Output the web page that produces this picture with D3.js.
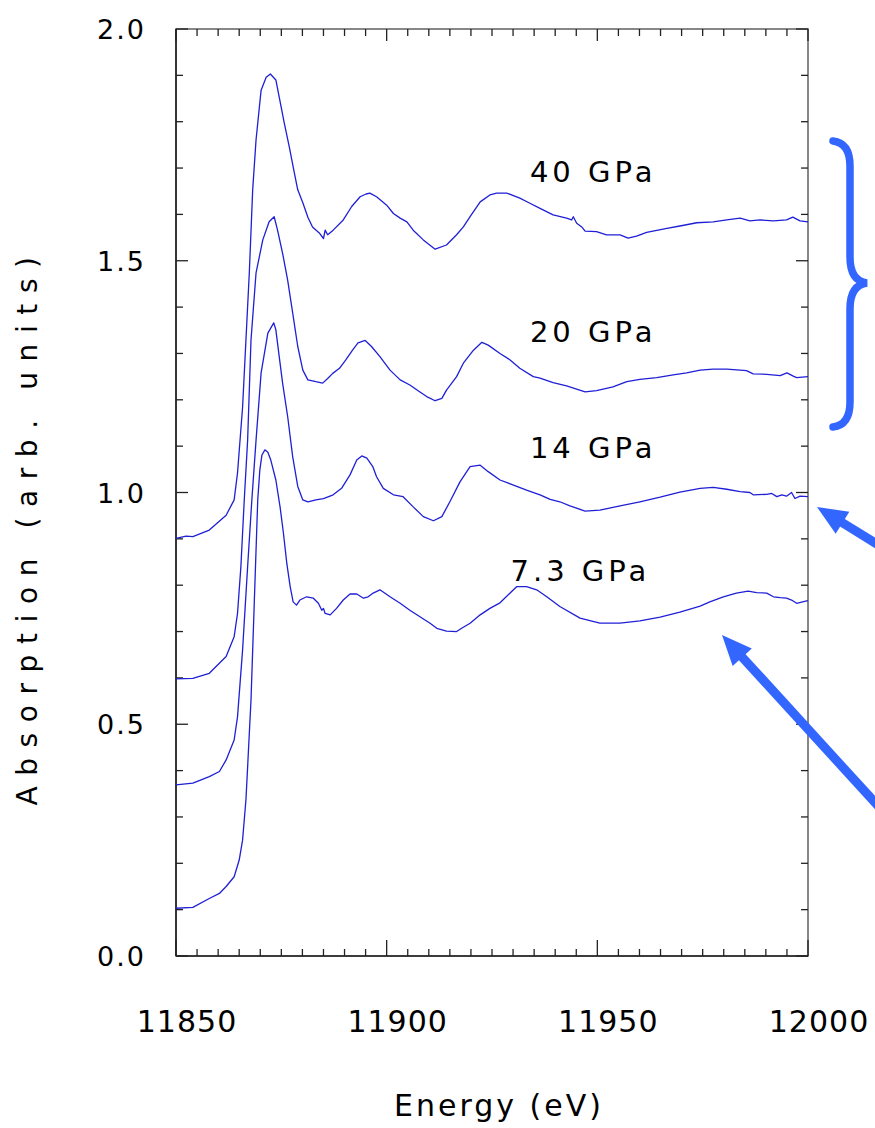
<!DOCTYPE html>
<html><head><meta charset="utf-8">
<script src="https://cdn.jsdelivr.net/npm/d3@7"></script>
<style>
html,body{margin:0;padding:0;background:#fff;}
svg text{font-family:"DejaVu Sans",sans-serif;fill:#000;}
</style></head>
<body>
<svg id="chart" width="875" height="1128"></svg>
<script>
// ---- data (energy in eV, absorption in arb. units) ----
const seriesNames = ["40 GPa", "20 GPa", "14 GPa", "7.3 GPa"];
const energy40 = [11850.0,11852.4,11854.0,11857.9,11861.9,11863.8,11864.6,11865.8,11866.6,11867.4,11868.2,11869.0,11870.2,11871.4,11872.4,11873.7,11874.5,11875.7,11876.9,11878.1,11878.9,11880.1,11881.3,11882.4,11884.0,11885.0,11885.4,11886.0,11887.3,11889.7,11891.7,11893.7,11895.1,11896.0,11897.6,11900.0,11901.6,11903.2,11904.8,11906.3,11908.7,11911.5,11914.2,11916.6,11918.2,11919.8,11922.2,11924.5,11926.1,11928.5,11931.6,11934.0,11936.4,11939.5,11942.7,11943.9,11944.3,11945.1,11946.3,11947.1,11949.8,11952.2,11955.4,11957.3,11959.3,11961.7,11966.5,11969.6,11973.6,11977.5,11980.7,11983.9,11986.2,11988.6,11991.8,11994.9,11996.4,11998.1,12000.0];
const absorb40 = [0.901,0.906,0.905,0.919,0.951,0.984,1.042,1.184,1.329,1.474,1.653,1.761,1.868,1.896,1.903,1.890,1.853,1.797,1.745,1.689,1.653,1.625,1.594,1.573,1.560,1.548,1.566,1.556,1.566,1.588,1.617,1.638,1.644,1.646,1.638,1.620,1.602,1.592,1.584,1.566,1.545,1.525,1.534,1.556,1.573,1.595,1.627,1.642,1.646,1.646,1.635,1.624,1.613,1.599,1.592,1.588,1.595,1.581,1.573,1.564,1.563,1.556,1.556,1.549,1.553,1.561,1.570,1.575,1.582,1.584,1.588,1.592,1.586,1.588,1.586,1.588,1.594,1.586,1.584];
const energy20 = [11850.0,11854.0,11857.9,11861.9,11863.8,11864.6,11865.4,11866.2,11867.0,11867.8,11869.0,11870.6,11872.1,11873.3,11874.1,11875.3,11876.5,11877.7,11878.9,11880.1,11881.3,11883.2,11884.8,11886.0,11887.2,11888.8,11890.3,11891.9,11893.2,11894.9,11896.4,11898.4,11900.8,11903.2,11905.5,11907.9,11909.5,11911.5,11913.1,11914.2,11916.6,11918.2,11920.6,11922.6,11924.1,11926.9,11929.3,11931.6,11934.8,11936.4,11939.5,11942.7,11947.1,11949.8,11953.7,11957.0,11960.1,11964.1,11968.0,11971.2,11974.4,11977.5,11980.7,11983.9,11985.4,11987.0,11990.2,11993.4,11995.0,11996.5,11997.3,12000.0];
const absorb20 = [0.598,0.599,0.610,0.646,0.689,0.739,0.840,0.984,1.113,1.329,1.474,1.545,1.584,1.595,1.566,1.516,1.458,1.387,1.315,1.264,1.243,1.239,1.236,1.246,1.257,1.268,1.286,1.307,1.323,1.328,1.315,1.293,1.264,1.243,1.232,1.217,1.207,1.198,1.203,1.221,1.250,1.279,1.307,1.324,1.318,1.300,1.286,1.268,1.250,1.247,1.237,1.230,1.217,1.220,1.228,1.239,1.244,1.248,1.254,1.258,1.264,1.266,1.266,1.264,1.263,1.256,1.255,1.252,1.258,1.251,1.248,1.250];
const energy14 = [11850.0,11854.0,11857.9,11860.3,11861.9,11863.8,11864.6,11865.8,11867.0,11868.0,11869.0,11870.2,11871.8,11873.2,11873.7,11874.5,11875.3,11876.5,11877.7,11878.9,11880.1,11881.3,11883.2,11885.0,11887.3,11889.3,11891.3,11892.9,11894.1,11895.3,11896.7,11897.6,11899.2,11901.6,11903.9,11906.3,11908.7,11911.1,11913.1,11915.0,11917.4,11919.8,11922.2,11924.1,11926.9,11930.1,11933.2,11936.4,11938.8,11941.1,11943.5,11947.1,11950.6,11955.4,11960.1,11964.9,11969.6,11974.4,11977.5,11980.7,11983.9,11986.2,11987.0,11990.2,11991.4,11992.6,11993.8,11994.9,11996.1,11996.9,11998.1,12000.0];
const absorb14 = [0.369,0.373,0.387,0.398,0.423,0.466,0.516,0.660,0.840,0.984,1.113,1.258,1.344,1.366,1.351,1.293,1.236,1.164,1.077,1.013,0.984,0.980,0.984,0.987,0.995,1.009,1.038,1.070,1.079,1.074,1.056,1.034,1.009,0.995,0.991,0.969,0.948,0.939,0.948,0.980,1.023,1.056,1.059,1.045,1.027,1.016,1.005,0.995,0.985,0.980,0.971,0.960,0.962,0.971,0.980,0.990,1.001,1.009,1.011,1.007,1.002,1.000,0.995,0.996,0.998,0.991,0.995,0.992,1.000,0.987,0.992,0.991];
const energy7 = [11850.0,11854.0,11857.9,11860.3,11861.9,11863.8,11865.0,11865.8,11866.6,11867.0,11867.8,11868.6,11869.4,11869.9,11870.4,11871.1,11871.8,11872.5,11873.7,11874.7,11875.5,11876.3,11877.1,11877.8,11878.6,11879.4,11881.0,11882.6,11883.8,11884.6,11885.0,11885.4,11886.6,11888.1,11889.7,11891.3,11892.9,11894.5,11895.6,11896.8,11898.4,11900.8,11903.2,11905.5,11907.9,11910.3,11911.9,11914.2,11916.6,11917.8,11919.8,11922.2,11924.5,11926.9,11929.3,11930.9,11933.2,11935.6,11938.0,11941.1,11945.9,11950.6,11955.4,11960.1,11964.9,11969.6,11974.4,11976.7,11979.9,11983.0,11985.8,11987.8,11990.2,11991.8,11993.4,11994.9,11996.1,11997.3,11999.7,12000.0];
const absorb7 = [0.103,0.105,0.124,0.135,0.150,0.171,0.207,0.250,0.337,0.408,0.552,0.768,0.984,1.049,1.081,1.092,1.087,1.070,1.027,0.969,0.912,0.847,0.797,0.764,0.757,0.768,0.775,0.772,0.761,0.746,0.750,0.739,0.736,0.750,0.768,0.781,0.781,0.772,0.775,0.783,0.790,0.775,0.761,0.746,0.732,0.718,0.707,0.701,0.700,0.707,0.718,0.736,0.750,0.762,0.783,0.797,0.797,0.790,0.775,0.754,0.729,0.718,0.718,0.723,0.731,0.742,0.755,0.764,0.775,0.783,0.787,0.784,0.783,0.775,0.773,0.772,0.768,0.761,0.766,0.766];
const xTickLabels = ["11850","11900","11950","12000"];
const yTickLabels = ["0.0","0.5","1.0","1.5","2.0"];
const seriesLabelPos = [ // label anchor in data units
  {name:"40 GPa", e:11934.0, a:1.67},
  {name:"20 GPa", e:11934.0, a:1.325},
  {name:"14 GPa", e:11934.0, a:1.075},
  {name:"7.3 GPa", e:11929.4, a:0.808}
];

// ---- layout ----
const svg = d3.select("#chart");
const pL = 176, pR = 808, pT = 29, pB = 956;
const x = d3.scaleLinear().domain([11850, 12000]).range([pL, pR]);
const y = d3.scaleLinear().domain([0, 2]).range([pB, pT]);

const series = [
  {e: energy40, a: absorb40},
  {e: energy20, a: absorb20},
  {e: energy14, a: absorb14},
  {e: energy7,  a: absorb7}
];

// frame
svg.append("rect").attr("x", pL).attr("y", pT).attr("width", pR-pL).attr("height", pB-pT)
  .attr("fill", "none").attr("stroke", "#6a6a6a").attr("stroke-width", 1.6);
svg.append("line").attr("x1", pL).attr("x2", pL).attr("y1", pT).attr("y2", pB).attr("stroke", "#222").attr("stroke-width", 1.6);
svg.append("line").attr("x1", pL).attr("x2", pR).attr("y1", pB).attr("y2", pB).attr("stroke", "#222").attr("stroke-width", 1.6);

// ticks
const xMinor = d3.range(11850, 12000.1, 5);
const yMinor = d3.range(0, 20.1, 1).map(d => d / 10);
const tickG = svg.append("g").attr("stroke", "#222").attr("stroke-width", 1.3);
xMinor.forEach(v => {
  const major = Math.abs(v % 50) < 1e-6;
  const len = major ? 16 : 7;
  tickG.append("line").attr("x1", x(v)).attr("x2", x(v)).attr("y1", pB).attr("y2", pB - len);
  tickG.append("line").attr("x1", x(v)).attr("x2", x(v)).attr("y1", pT).attr("y2", pT + (major ? 12 : 7));
});
yMinor.forEach(v => {
  const major = Math.abs((v * 10) % 5) < 1e-6;
  const len = major ? 12 : 7;
  tickG.append("line").attr("x1", pL).attr("x2", pL + len).attr("y1", y(v)).attr("y2", y(v));
  tickG.append("line").attr("x1", pR).attr("x2", pR - len).attr("y1", y(v)).attr("y2", y(v));
});

// tick labels
yTickLabels.forEach(t => {
  svg.append("text").attr("x", 146).attr("y", y(+t) + 10).attr("text-anchor", "end")
    .attr("font-size", 27).attr("letter-spacing", 2).text(t);
});
xTickLabels.forEach(t => {
  svg.append("text").attr("x", x(+t) + 11).attr("y", 1032).attr("text-anchor", "middle")
    .attr("font-size", 30).attr("letter-spacing", 1).text(t);
});

// axis titles
svg.append("text").attr("x", 499).attr("y", 1116).attr("text-anchor", "middle")
  .attr("font-size", 30).attr("letter-spacing", 3).text("Energy (eV)");
svg.append("text").attr("transform", "translate(37,526) rotate(-90)").attr("text-anchor", "middle")
  .attr("font-size", 28).attr("letter-spacing", 10.6).text("Absorption (arb. units)");

// curves
const line = d3.line().x(d => x(d[0])).y(d => y(d[1]));
series.forEach(s => {
  const pts = s.e.map((e, i) => [e, s.a[i]]);
  svg.append("path").datum(pts).attr("d", line).attr("fill", "none")
    .attr("stroke", "#1f1fd6").attr("stroke-width", 1.3).attr("stroke-linejoin", "round");
});

// series labels
seriesLabelPos.forEach(p => {
  svg.append("text").attr("x", x(p.e)).attr("y", y(p.a)).attr("font-size", 29)
    .attr("letter-spacing", 4).text(p.name);
});

// annotations (blue brace + arrows)
const blue = "#3366ff";
svg.append("path")
  .attr("d", "M833,141 Q850,143 850,166 L850,257 Q850,281 867,283 Q850,285 850,309 L850,402 Q850,425 833,427")
  .attr("fill", "none").attr("stroke", blue).attr("stroke-width", 7.5).attr("stroke-linecap", "round");

function arrow(tx, ty, fx, fy) {
  const dx = fx - tx, dy = fy - ty, L = Math.hypot(dx, dy);
  const ux = dx / L, uy = dy / L, hl = 30, hw = 13;
  const bx = tx + ux * hl, by = ty + uy * hl;
  svg.append("line").attr("x1", bx - ux * 2).attr("y1", by - uy * 2).attr("x2", fx).attr("y2", fy)
    .attr("stroke", blue).attr("stroke-width", 9);
  svg.append("polygon").attr("points",
    [[tx, ty], [bx - uy * hw, by + ux * hw], [bx + uy * hw, by - ux * hw]].map(p => p.join(",")).join(" "))
    .attr("fill", blue);
}
arrow(817, 507, 880, 546);
arrow(722, 635, 880, 808);
</script>
</body></html>
